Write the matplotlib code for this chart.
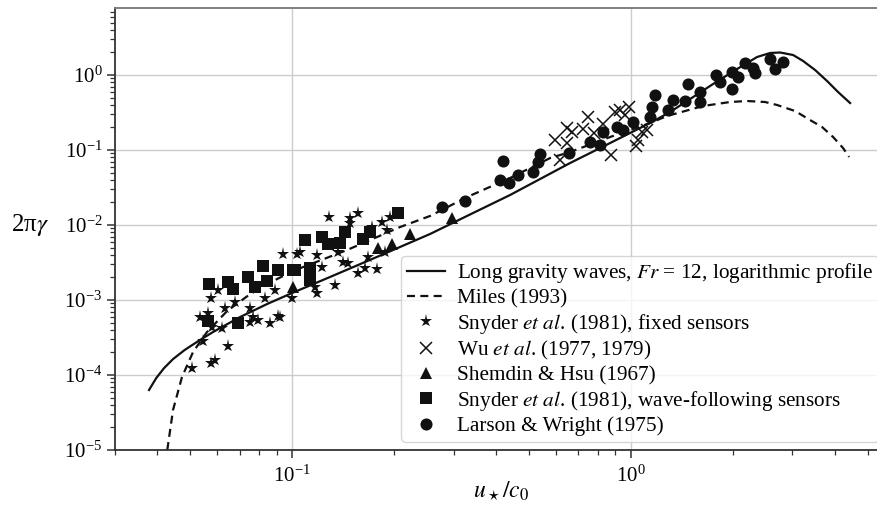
import matplotlib
matplotlib.use('Agg')
import matplotlib.pyplot as plt
from matplotlib.ticker import LogLocator, NullFormatter

plt.rcParams['font.family'] = 'serif'
plt.rcParams['font.serif'] = ['Liberation Serif', 'DejaVu Serif']
plt.rcParams['mathtext.fontset'] = 'stix'

# theory curves
theory_x = [0.0378, 0.0397, 0.0419, 0.0445, 0.0482, 0.0532, 0.0584, 0.0702, 0.0844,
            0.100, 0.1295, 0.1894, 0.2555, 0.347, 0.440, 0.540, 0.662, 0.812, 0.995,
            1.140, 1.306, 1.497, 1.750, 2.060, 2.360, 2.578, 2.760, 3.015, 3.227, 3.501,
            3.798, 4.093, 4.442]
theory_y = [6.31e-5, 9.1e-5, 1.24e-4, 1.63e-4, 2.16e-4, 2.89e-4, 3.74e-4, 5.93e-4,
            8.85e-4, 1.24e-3, 2.03e-3, 4.23e-3, 7.59e-3, 0.0149, 0.0251, 0.0411, 0.0671,
            0.1063, 0.1685, 0.2291, 0.321, 0.4786, 0.7586, 1.202, 1.738, 1.965, 1.995,
            1.848, 1.537, 1.166, 0.832, 0.593, 0.423]

miles_x = [0.0428, 0.0445, 0.0473, 0.0510, 0.0561, 0.0643, 0.0752, 0.0903, 0.1007,
           0.1453, 0.2084, 0.2555, 0.3286, 0.440, 0.578, 0.662, 0.869, 1.140, 1.280,
           1.635, 1.964, 2.205, 2.492, 2.704, 3.056, 3.383, 3.671, 3.957, 4.234, 4.411]
miles_y = [1.0e-5, 3.41e-5, 9.40e-5, 2.03e-4, 3.75e-4, 7.14e-4, 1.20e-3, 1.905e-3,
           2.44e-3, 4.64e-3, 9.40e-3, 0.0132, 0.0236, 0.0423, 0.0782, 0.0940, 0.1491,
           0.2291, 0.284, 0.386, 0.4365, 0.450, 0.4365, 0.398, 0.331, 0.251, 0.2025,
           0.1491, 0.1063, 0.0807]

# Snyder et al. (1981), fixed sensors
snyder_fixed_x = [0.0507, 0.0546, 0.0577, 0.0593, 0.0647, 0.0535, 0.0565, 0.0581, 0.0621,
                  0.0605, 0.0577, 0.0634, 0.0679, 0.0752, 0.0767, 0.0794, 0.0752, 0.0861,
                  0.0909, 0.0832, 0.0891, 0.100, 0.0941, 0.1035, 0.0922, 0.1056, 0.1185,
                  0.1226, 0.1367, 0.1415, 0.1463, 0.1676, 0.1642, 0.1566, 0.1782, 0.1882,
                  0.1339, 0.1169, 0.1185, 0.1286, 0.1483, 0.1566, 0.1483, 0.1722, 0.1844,
                  0.1947, 0.1908]
snyder_fixed_y = [1.24e-4, 2.84e-4, 1.45e-4, 1.59e-4, 2.44e-4, 5.93e-4, 6.71e-4, 4.37e-4,
                  4.23e-4, 1.36e-3, 1.06e-3, 7.82e-4, 9.40e-4, 7.82e-4, 5.93e-4, 5.41e-4,
                  5.09e-4, 4.94e-4, 6.12e-4, 1.06e-3, 1.36e-3, 1.06e-3, 4.11e-3, 4.11e-3,
                  5.93e-4, 4.37e-3, 3.98e-3, 2.75e-3, 4.37e-3, 3.21e-3, 3.11e-3, 3.74e-3,
                  2.67e-3, 2.29e-3, 2.59e-3, 4.37e-3, 1.59e-3, 1.49e-3, 1.24e-3, 0.0128,
                  0.0124, 0.0145, 0.0106, 9.40e-3, 0.0110, 0.0128, 8.58e-3]

# Wu et al. (1977, 1979)
wu_x = [0.598, 0.649, 0.671, 0.649, 0.618, 0.748, 0.723, 0.779, 0.875, 0.899, 0.930,
        0.962, 0.989, 1.051, 1.080, 1.117, 1.037, 0.828]
wu_y = [0.1359, 0.1965, 0.1738, 0.1240, 0.0736, 0.2754, 0.1905, 0.1685, 0.0858, 0.321,
        0.3415, 0.2929, 0.3744, 0.1359, 0.1738, 0.1848, 0.1131, 0.2222]

# Shemdin & Hsu (1967)
shemdin_x = [0.1007, 0.1794, 0.1973, 0.2231, 0.2969]
shemdin_y = [1.49e-3, 4.94e-3, 5.58e-3, 7.59e-3, 0.0124]

# Snyder et al. (1981), wave-following sensors
snyder_wave_x = [0.0569, 0.0647, 0.0670, 0.0742, 0.0777, 0.0821, 0.0844, 0.0909, 0.1007,
                 0.0693, 0.0565, 0.1093, 0.1021, 0.1130, 0.1130, 0.1226, 0.1277, 0.1386,
                 0.1434, 0.1621, 0.1700, 0.2056]
snyder_wave_y = [1.63e-3, 1.74e-3, 1.40e-3, 2.03e-3, 1.49e-3, 2.84e-3, 1.79e-3, 2.51e-3,
                 2.51e-3, 4.94e-4, 5.25e-4, 6.31e-3, 2.51e-3, 2.67e-3, 1.85e-3, 6.92e-3,
                 5.58e-3, 5.75e-3, 8.06e-3, 6.51e-3, 8.06e-3, 0.01445]

# Larson & Wright (1975)
larson_x = [0.2772, 0.3241, 0.4198, 0.4113, 0.4371, 0.4649, 0.5148, 0.5398, 0.5326,
            0.6573, 0.7586, 0.8115, 0.8283, 0.9111, 0.9490, 1.016, 1.140, 1.156, 1.180,
            1.289, 1.333, 1.476, 1.446, 1.602, 1.602, 1.786, 1.835, 1.991, 1.991, 2.074,
            2.175, 2.297, 2.328, 2.578, 2.667, 2.817]
larson_y = [0.01738, 0.02089, 0.07135, 0.03981, 0.03631, 0.04642, 0.05089, 0.08846,
            0.06918, 0.0912, 0.1279, 0.1166, 0.1738, 0.2025, 0.1848, 0.2362, 0.2754,
            0.3744, 0.5412, 0.3415, 0.4642, 0.7586, 0.450, 0.5933, 0.4365, 1.0, 0.8065,
            1.096, 0.6506, 0.9404, 1.445, 1.240, 1.063, 1.635, 1.202, 1.491]


def drawChart(path):
    """
    画图并保存
    :param path: 文件名
    :return:
    """
    fig = plt.figure(figsize=(8.78, 5.07), dpi=100)
    ax = fig.add_axes([0.131, 0.1124, 0.879, 0.8718])
    ax.set_xscale('log')
    ax.set_yscale('log')
    ax.set_xlim(0.03, 5.7)
    ax.set_ylim(1e-5, 7.82)

    ax.grid(True, which='major', color='#cccccc', lw=1.0, zorder=0)
    ax.set_axisbelow(True)

    ax.plot(theory_x, theory_y, color='#111111', lw=1.6,
            label='Long gravity waves, $\\mathit{Fr}$ = 12, logarithmic profile')
    ax.plot(miles_x, miles_y, color='#111111', lw=1.6, linestyle=(0, (3.6, 2.4)),
            label='Miles (1993)')

    k = dict(linestyle='none', color='#111111', zorder=3)
    ax.plot(snyder_fixed_x, snyder_fixed_y, marker='*', markersize=9.5, mew=0,
            label='Snyder $\\mathit{et\\ al}$. (1981), fixed sensors', **k)
    ax.plot(wu_x, wu_y, marker='x', markersize=8, mew=1.1,
            label='Wu $\\mathit{et\\ al}$. (1977, 1979)', **k)
    ax.plot(shemdin_x, shemdin_y, marker='^', markersize=8, mew=0,
            label='Shemdin & Hsu (1967)', **k)
    ax.plot(snyder_wave_x, snyder_wave_y, marker='s', markersize=8, mew=0,
            label='Snyder $\\mathit{et\\ al}$. (1981), wave-following sensors', **k)
    ax.plot(larson_x, larson_y, marker='o', markersize=8.7, mew=0,
            label='Larson & Wright (1975)', **k)

    ax.xaxis.set_minor_locator(LogLocator(base=10, subs=range(2, 10), numticks=20))
    ax.yaxis.set_minor_locator(LogLocator(base=10, subs=range(2, 10), numticks=20))
    ax.xaxis.set_minor_formatter(NullFormatter())
    ax.yaxis.set_minor_formatter(NullFormatter())
    ax.tick_params(which='major', direction='out', length=6, width=1.1, color='#333333',
                   labelsize=15, pad=3)
    ax.tick_params(which='minor', direction='out', length=3.5, width=0.9, color='#333333')
    ax.tick_params(axis='x', which='major', pad=5)

    for s in ['left', 'bottom']:
        ax.spines[s].set_color('#333333')
        ax.spines[s].set_linewidth(1.3)
    ax.spines['top'].set_color('#777777')
    ax.spines['top'].set_linewidth(1.3)
    ax.spines['right'].set_visible(False)

    ax.set_ylabel('2π$\\gamma$', fontsize=18, rotation=0, ha='center', va='center')
    ax.yaxis.set_label_coords(-0.11, 0.509)
    ax.set_xlabel('$u_\\star/c_0$', fontsize=17, va='center')
    ax.xaxis.set_label_coords(0.5, -0.093)

    leg = ax.legend(loc='lower right', fontsize=15.3, numpoints=1, labelspacing=0.16,
                    borderpad=0.25, handlelength=1.8, handletextpad=0.55,
                    borderaxespad=0.4, framealpha=0.8, edgecolor='#cccccc', fancybox=True)
    leg.get_frame().set_linewidth(1.0)

    fig.savefig(path, dpi=100)


drawChart('out.png')
